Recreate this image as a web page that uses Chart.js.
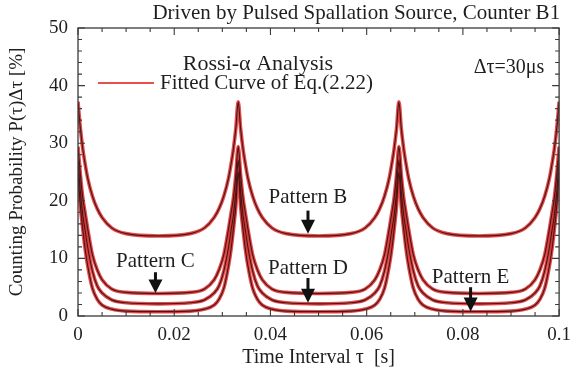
<!DOCTYPE html>
<html>
<head>
<meta charset="utf-8">
<script src="https://cdn.jsdelivr.net/npm/chart.js@4.4.0/dist/chart.umd.min.js"></script>
<style>
  html, body { margin: 0; padding: 0; background: #fff; }
</style>
</head>
<body>
<canvas id="rossi" width="579" height="378"></canvas>
<script>
// time interval grid [s], dense around the pulse peaks (period 1/30 s)
const tau = [
  0, 0.0005, 0.001, 0.0015, 0.002, 0.003, 0.004, 0.005, 0.007, 0.010, 0.0167,
  0.0233, 0.0263, 0.0283, 0.0293, 0.0303, 0.0313, 0.0318, 0.0323, 0.0328, 0.0333,
  0.0338, 0.0343, 0.0348, 0.0353, 0.0363, 0.0373, 0.0383, 0.0403, 0.0433, 0.0500,
  0.0567, 0.0597, 0.0617, 0.0627, 0.0637, 0.0647, 0.0652, 0.0657, 0.0662, 0.0667,
  0.0672, 0.0677, 0.0682, 0.0687, 0.0697, 0.0707, 0.0717, 0.0737, 0.0767, 0.0833,
  0.0900, 0.0930, 0.0950, 0.0960, 0.0970, 0.0980, 0.0985, 0.0990, 0.0995, 0.1000
];

// counting probability P(tau)dtau [%]
const patternB = [
  37.2, 32.5, 29.0, 26.3, 24.0, 20.8, 18.6, 17.1, 15.3, 14.3, 13.9,
  14.3, 15.3, 17.1, 18.6, 20.8, 24.0, 26.3, 29.0, 32.5, 37.2,
  32.5, 29.0, 26.3, 24.0, 20.8, 18.6, 17.1, 15.3, 14.3, 13.9,
  14.3, 15.3, 17.1, 18.6, 20.8, 24.0, 26.3, 29.0, 32.5, 37.2,
  32.5, 29.0, 26.3, 24.0, 20.8, 18.6, 17.1, 15.3, 14.3, 13.9,
  14.3, 15.3, 17.1, 18.6, 20.8, 24.0, 26.3, 29.0, 32.5, 37.2
];
const patternC = [
  29.4, 24.5, 20.5, 17.8, 15.2, 10.6, 8.0, 6.3, 4.7, 4.1, 3.9,
  4.1, 4.7, 6.3, 8.0, 10.6, 15.2, 17.8, 20.5, 24.5, 29.4,
  24.5, 20.5, 17.8, 15.2, 10.6, 8.0, 6.3, 4.7, 4.1, 3.9,
  4.1, 4.7, 6.3, 8.0, 10.6, 15.2, 17.8, 20.5, 24.5, 29.4,
  24.5, 20.5, 17.8, 15.2, 10.6, 8.0, 6.3, 4.7, 4.1, 3.9,
  4.1, 4.7, 6.3, 8.0, 10.6, 15.2, 17.8, 20.5, 24.5, 29.4
];
const patternD = [
  27.0, 21.5, 17.5, 14.8, 12.0, 7.8, 5.2, 4.0, 2.8, 2.3, 2.1,
  2.3, 2.8, 4.0, 5.2, 7.8, 12.0, 14.8, 17.5, 21.5, 27.0,
  21.5, 17.5, 14.8, 12.0, 7.8, 5.2, 4.0, 2.8, 2.3, 2.1,
  2.3, 2.8, 4.0, 5.2, 7.8, 12.0, 14.8, 17.5, 21.5, 27.0,
  21.5, 17.5, 14.8, 12.0, 7.8, 5.2, 4.0, 2.8, 2.3, 2.1,
  2.3, 2.8, 4.0, 5.2, 7.8, 12.0, 14.8, 17.5, 21.5, 27.0
];
const patternE = [
  25.0, 19.0, 15.0, 11.5, 8.8, 4.8, 2.9, 1.9, 1.2, 0.85, 0.75,
  0.85, 1.2, 1.9, 2.9, 4.8, 8.8, 11.5, 15.0, 19.0, 25.0,
  19.0, 15.0, 11.5, 8.8, 4.8, 2.9, 1.9, 1.2, 0.85, 0.75,
  0.85, 1.2, 1.9, 2.9, 4.8, 8.8, 11.5, 15.0, 19.0, 25.0,
  19.0, 15.0, 11.5, 8.8, 4.8, 2.9, 1.9, 1.2, 0.85, 0.75,
  0.85, 1.2, 1.9, 2.9, 4.8, 8.8, 11.5, 15.0, 19.0, 25.0
];

const patternNames = ['Pattern B', 'Pattern C', 'Pattern D', 'Pattern E'];
const xTickValues = [0, 0.02, 0.04, 0.06, 0.08, 0.1];
const yTickValues = [0, 10, 20, 30, 40, 50];

const SERIF = '"Liberation Serif", "DejaVu Serif", serif';
const INK = '#1f1f1f';

// label anchor [tau, textY, arrowTop, arrowTip] in data units
const patternMarks = [
  [0.0478, 20.5, 18.3, 14.3],
  [0.0161, 9.4, 7.6, 4.0],
  [0.0478, 8.3, 6.6, 2.3],
  [0.0816, 6.6, 5.0, 0.8]
];

function toPoints(values) {
  return tau.map((t, i) => ({ x: t, y: values[i] }));
}

const series = [patternB, patternC, patternD, patternE];
const datasets = [];
// measured points (dark) go first so they sit on top of the fitted curves
series.forEach((s, i) => datasets.push({
  label: patternNames[i] + ' data',
  data: toPoints(s),
  borderColor: 'rgba(55,20,20,0.9)',
  borderWidth: 1.2,
  pointRadius: 0,
  cubicInterpolationMode: 'monotone'
}));
series.forEach((s, i) => datasets.push({
  label: patternNames[i] + ' fit',
  data: toPoints(s),
  borderColor: 'rgba(228,40,40,0.85)',
  borderWidth: 3.6,
  pointRadius: 0,
  cubicInterpolationMode: 'monotone'
}));

// frame with inward ticks on all four sides
const framePlugin = {
  id: 'frame',
  afterDatasetsDraw(chart) {
    const { ctx, chartArea: a, scales: { x, y } } = chart;
    ctx.save();
    ctx.strokeStyle = '#3a3a3a';
    ctx.lineWidth = 1.3;
    ctx.strokeRect(a.left, a.top, a.right - a.left, a.bottom - a.top);
    ctx.lineWidth = 1.1;
    ctx.beginPath();
    for (let i = 0; i <= 20; i++) {
      const px = x.getPixelForValue(i * 0.005);
      const len = i % 4 === 0 ? 7 : 4;
      ctx.moveTo(px, a.bottom); ctx.lineTo(px, a.bottom - len);
      ctx.moveTo(px, a.top); ctx.lineTo(px, a.top + len);
    }
    for (let i = 0; i <= 25; i++) {
      const py = y.getPixelForValue(i * 2);
      const len = i % 5 === 0 ? 7 : 4;
      ctx.moveTo(a.left, py); ctx.lineTo(a.left + len, py);
      ctx.moveTo(a.right, py); ctx.lineTo(a.right - len, py);
    }
    ctx.stroke();
    ctx.restore();
  }
};

// headings, legend sample and pattern arrows
const notesPlugin = {
  id: 'notes',
  afterDraw(chart) {
    const { ctx, chartArea: a, scales: { x, y } } = chart;
    ctx.save();
    ctx.fillStyle = INK;
    ctx.textBaseline = 'middle';

    ctx.font = '21px ' + SERIF;
    ctx.textAlign = 'right';
    ctx.fillText('Driven by Pulsed Spallation Source, Counter B1', a.right + 1, 13);

    ctx.textAlign = 'center';
    ctx.font = '22px ' + SERIF;
    ctx.fillText('Rossi-\u03b1 Analysis', 258, 64);
    ctx.font = '20px ' + SERIF;
    ctx.fillText('\u0394\u03c4=30\u03bcs', 509, 68);

    ctx.strokeStyle = 'rgba(232,60,60,0.9)';
    ctx.lineWidth = 2;
    ctx.beginPath();
    ctx.moveTo(98, 83); ctx.lineTo(154, 83);
    ctx.stroke();
    ctx.textAlign = 'left';
    ctx.font = '21px ' + SERIF;
    ctx.fillText('Fitted Curve of Eq.(2.22)', 160, 83);

    ctx.textAlign = 'center';
    ctx.strokeStyle = '#111';
    ctx.font = '21px ' + SERIF;
    patternMarks.forEach((m, i) => {
      const px = x.getPixelForValue(m[0]);
      ctx.fillStyle = INK;
      ctx.fillText(patternNames[i], px, y.getPixelForValue(m[1]));
      const top = y.getPixelForValue(m[2]);
      const tip = y.getPixelForValue(m[3]);
      const head = Math.min(14, (tip - top) * 0.65);
      ctx.lineWidth = 3;
      ctx.beginPath();
      ctx.moveTo(px, top); ctx.lineTo(px, tip - head + 1);
      ctx.stroke();
      ctx.fillStyle = '#111';
      ctx.beginPath();
      ctx.moveTo(px - 7, tip - head);
      ctx.lineTo(px + 7, tip - head);
      ctx.lineTo(px, tip);
      ctx.closePath();
      ctx.fill();
    });
    ctx.restore();
  }
};

const tickFont = { family: SERIF, size: 19 };

new Chart(document.getElementById('rossi'), {
  type: 'line',
  data: { datasets: datasets },
  options: {
    responsive: false,
    animation: false,
    layout: { padding: { top: 28, right: 12, left: 0, bottom: 0 } },
    plugins: { legend: { display: false }, tooltip: { enabled: false } },
    scales: {
      x: {
        type: 'linear',
        min: 0, max: 0.1,
        grid: { display: false, drawTicks: false },
        border: { display: false },
        afterFit(scale) { scale.height = 62; },
        afterBuildTicks(scale) { scale.ticks = xTickValues.map(v => ({ value: v })); },
        ticks: {
          font: tickFont, color: INK, padding: 8, maxRotation: 0,
          callback: v => String(parseFloat(v.toFixed(3)))
        },
        title: {
          display: true, text: 'Time Interval \u03c4  [s]',
          font: { family: SERIF, size: 20 }, color: INK,
          padding: { top: 0, bottom: 8 }
        }
      },
      y: {
        min: 0, max: 50,
        grid: { display: false, drawTicks: false },
        border: { display: false },
        afterFit(scale) { scale.width = 78; },
        afterBuildTicks(scale) { scale.ticks = yTickValues.map(v => ({ value: v })); },
        ticks: { font: tickFont, color: INK, padding: 10 },
        title: {
          display: true, text: 'Counting Probability P(\u03c4)\u0394\u03c4 [%]',
          font: { family: SERIF, size: 19 }, color: INK,
          padding: { top: 6, bottom: 0 }
        }
      }
    }
  },
  plugins: [framePlugin, notesPlugin]
});
</script>
</body>
</html>
